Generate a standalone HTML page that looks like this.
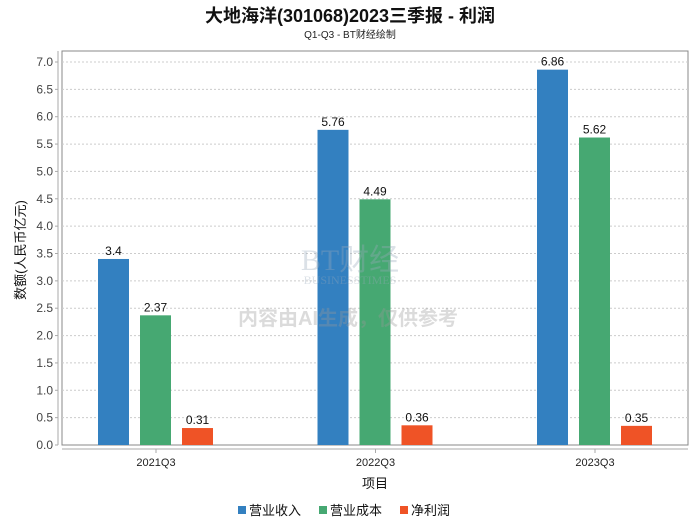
<!DOCTYPE html>
<html><head><meta charset="utf-8"><style>
body{margin:0;background:#fff;font-family:"Liberation Sans","Noto Sans CJK SC",sans-serif;}
</style></head><body>
<svg id="chart" width="700" height="524" xmlns="http://www.w3.org/2000/svg" font-family="Liberation Sans, Noto Sans CJK SC, sans-serif">
<text x="350" y="22" text-anchor="middle" font-size="18" font-weight="bold" fill="#111">大地海洋(301068)2023三季报 - 利润</text>
<text x="350" y="38" text-anchor="middle" font-size="10" fill="#222">Q1-Q3 - BT财经绘制</text>
<rect x="62" y="51" width="626" height="394" fill="#fff" stroke="#888"/>
<line x1="58" y1="51" x2="58" y2="445" stroke="#aaa"/>
<line x1="62" y1="449" x2="688" y2="449" stroke="#aaa"/>
<g id="grid"></g><g id="bars"></g>
<g opacity="0.35">
<text x="350" y="270" text-anchor="middle" font-size="30" font-family="Liberation Serif, serif" fill="#9aaabb">BT财经</text>
<text x="350" y="284" text-anchor="middle" font-size="12" font-family="Liberation Serif, serif" fill="#9aaabb">BUSINESSTIMES</text>
<text x="348" y="325" text-anchor="middle" font-size="20" font-weight="bold" fill="#999">内容由AI生成，仅供参考</text>
</g>
<text transform="translate(25,250) rotate(-90)" text-anchor="middle" font-size="13" fill="#111">数额(人民币亿元)</text>
<text x="375" y="488" text-anchor="middle" font-size="13" fill="#111">项目</text>
<g id="legend"></g>
</svg>
<script>
const categories=["2021Q3","2022Q3","2023Q3"];
const seriesNames=["营业收入","营业成本","净利润"];
const revenue=[3.4,5.76,6.86];
const cost=[2.37,4.49,5.62];
const profit=[0.31,0.36,0.35];
const yTicks=[0,0.5,1,1.5,2,2.5,3,3.5,4,4.5,5,5.5,6,6.5,7];
const colors=["#3380c0","#46a872","#ef5326"];
const NS="http://www.w3.org/2000/svg";
const y=v=>445-v*(383/7);
const gc=i=>156+i*219.5;
function mk(tag,attrs,parent){const e=document.createElementNS(NS,tag);for(const k in attrs)e.setAttribute(k,attrs[k]);parent.appendChild(e);return e;}
const grid=document.getElementById('grid'),bars=document.getElementById('bars'),svg=document.getElementById('chart');
yTicks.forEach(t=>{
 if(t>0){const l=mk('line',{x1:62,x2:688,y1:y(t),y2:y(t),stroke:'#ccc','stroke-dasharray':'2,2'},grid);
 
 }
 mk('line',{x1:55,x2:58,y1:y(t),y2:y(t),stroke:'#aaa'},grid);
 const tx=mk('text',{x:53,y:y(t)+4,'text-anchor':'end','font-size':12,fill:'#444'},grid);tx.textContent=t.toFixed(1);
 
 
});
const series=[revenue,cost,profit];const offs=[-58,-16,26];
categories.forEach((c,i)=>{
 mk('line',{x1:gc(i),x2:gc(i),y1:449,y2:453,stroke:'#aaa'},grid);
 const lt=mk('text',{x:gc(i),y:466,'text-anchor':'middle','font-size':11,fill:'#222'},grid);lt.textContent=c;
 
 
 series.forEach((s,j)=>{
  const x=gc(i)+offs[j];
  const r=mk('rect',{x:x,y:y(s[i]),width:31,height:445-y(s[i]),fill:colors[j]},bars);
  
  
  const v=mk('text',{x:x+15.5,y:y(s[i])-4,'text-anchor':'middle','font-size':12,fill:'#111'},bars);v.textContent=s[i];
  
  
 });
});
const lg=document.getElementById('legend');
const lx=[238,319,400];
seriesNames.forEach((n,j)=>{
 const g=mk('g',{},lg);
 
 
 mk('rect',{x:lx[j],y:506,width:8,height:8,fill:colors[j]},g);
 const t=mk('text',{x:lx[j]+11,y:515,'font-size':13,fill:'#111'},g);t.textContent=n;
});
</script>
</body></html>
